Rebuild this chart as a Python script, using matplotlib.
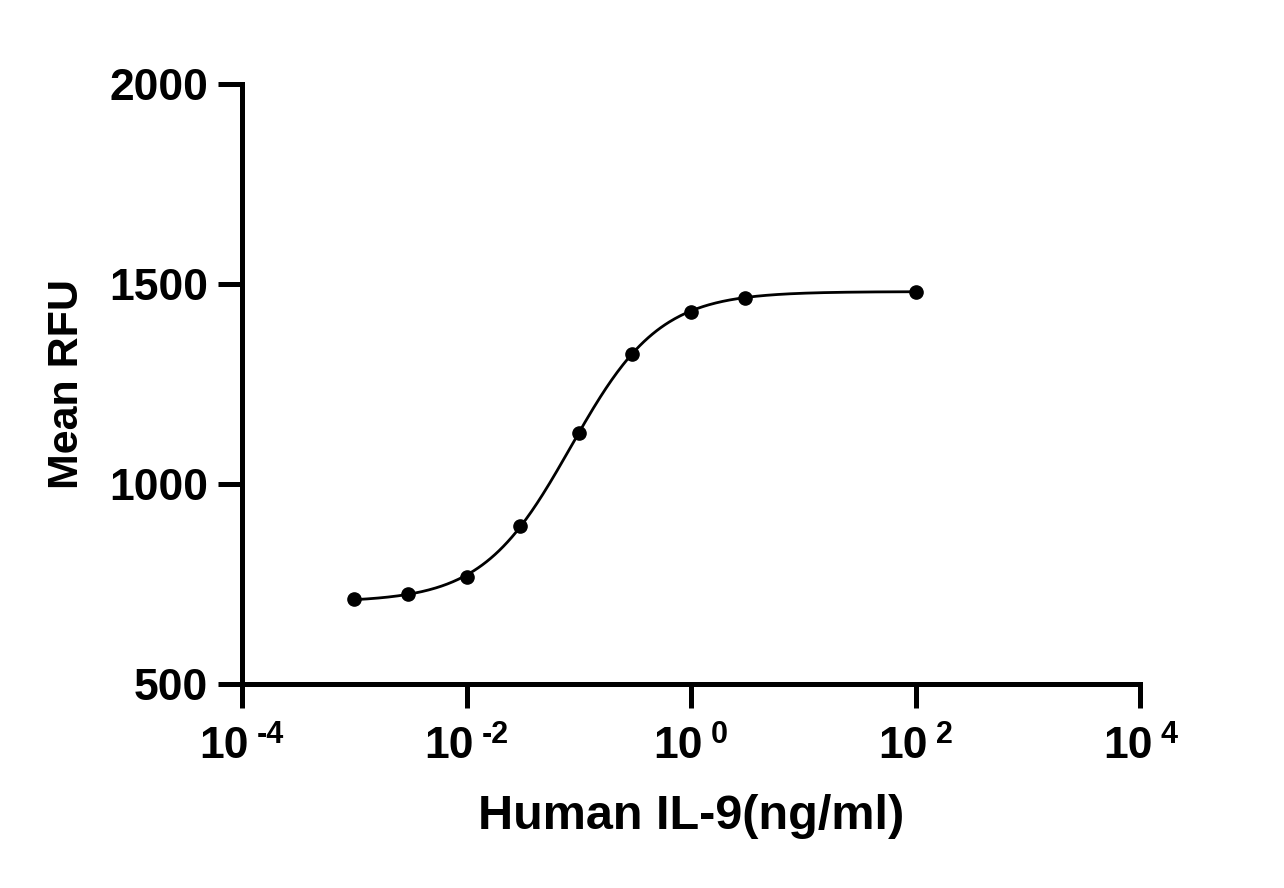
import numpy as np
import matplotlib
matplotlib.use("Agg")
import matplotlib.pyplot as plt
from matplotlib.ticker import FixedLocator, NullLocator

# Data
conc = [0.001, 0.003, 0.01, 0.03, 0.1, 0.3, 1, 3, 100]
rfu = [712, 725, 768, 894, 1128, 1326, 1430, 1465, 1481]

# 4PL fit parameters estimated from the curve
bottom, top, ec50, hill = 705, 1481, 0.085, 1.1

x_ticks = [1e-4, 1e-2, 1e0, 1e2, 1e4]
x_exponents = ["-4", "-2", "0", "2", "4"]
y_ticks = [500, 1000, 1500, 2000]

plt.rcParams['font.family'] = ['Liberation Sans', 'DejaVu Sans']
plt.rcParams['font.weight'] = 'bold'

DPI = 100
fig = plt.figure(figsize=(12.84, 8.88), dpi=DPI)
ax = fig.add_axes([242/1284, 1-684/888, (1140-242)/1284, (684-84)/888])

xf = np.logspace(np.log10(conc[0]), np.log10(conc[-1]), 400)
yf = bottom + (top - bottom) / (1 + (ec50 / xf) ** hill)
ax.plot(xf, yf, color='black', lw=2.0, zorder=2)
ax.plot(conc, rfu, 'o', color='black', ms=9.5, zorder=3)

ax.set_xscale('log')
ax.set_xlim(1e-4, 1e4)
ax.set_ylim(500, 2000)
ax.xaxis.set_major_locator(FixedLocator(x_ticks))
ax.xaxis.set_minor_locator(NullLocator())
ax.set_yticks(y_ticks)

for s in ['top', 'right']:
    ax.spines[s].set_visible(False)
for s in ['left', 'bottom']:
    ax.spines[s].set_linewidth(3.6)
    ax.spines[s].set_capstyle('projecting')

ax.tick_params(axis='both', length=17.5, width=3.6, labelsize=32, pad=7)
ax.tick_params(axis='x', labelbottom=False)
for lab in ax.get_yticklabels():
    lab.set_fontweight('bold')

# x tick labels: "10" with a raised exponent, centred on the tick
renderer = fig.canvas.get_renderer()
gap_px = 8
base_dy, exp_dy = -53.5, -42.5
for xv, ex in zip(x_ticks, x_exponents):
    tb = ax.annotate("10", xy=(xv, 0), xycoords=('data', 'axes fraction'),
                     xytext=(0, base_dy), textcoords='offset points',
                     ha='left', va='baseline', fontsize=32, fontweight='bold',
                     annotation_clip=False)
    te = ax.annotate(ex, xy=(xv, 0), xycoords=('data', 'axes fraction'),
                     xytext=(0, exp_dy), textcoords='offset points',
                     ha='left', va='baseline', fontsize=22, fontweight='bold',
                     annotation_clip=False)
    w1 = tb.get_window_extent(renderer).width
    w2 = te.get_window_extent(renderer).width
    total = w1 + gap_px + w2
    k = 72.0 / DPI
    tb.set_position((-total / 2 * k, base_dy))
    te.set_position(((-total / 2 + w1 + gap_px) * k, exp_dy))

ax.set_xlabel('Human IL-9(ng/ml)', fontsize=35, fontweight='bold')
ax.xaxis.set_label_coords(0.5, -0.183)
ax.set_ylabel('Mean RFU', fontsize=31, fontweight='bold', labelpad=16)

fig.savefig('out.png', dpi=DPI, facecolor='white')
